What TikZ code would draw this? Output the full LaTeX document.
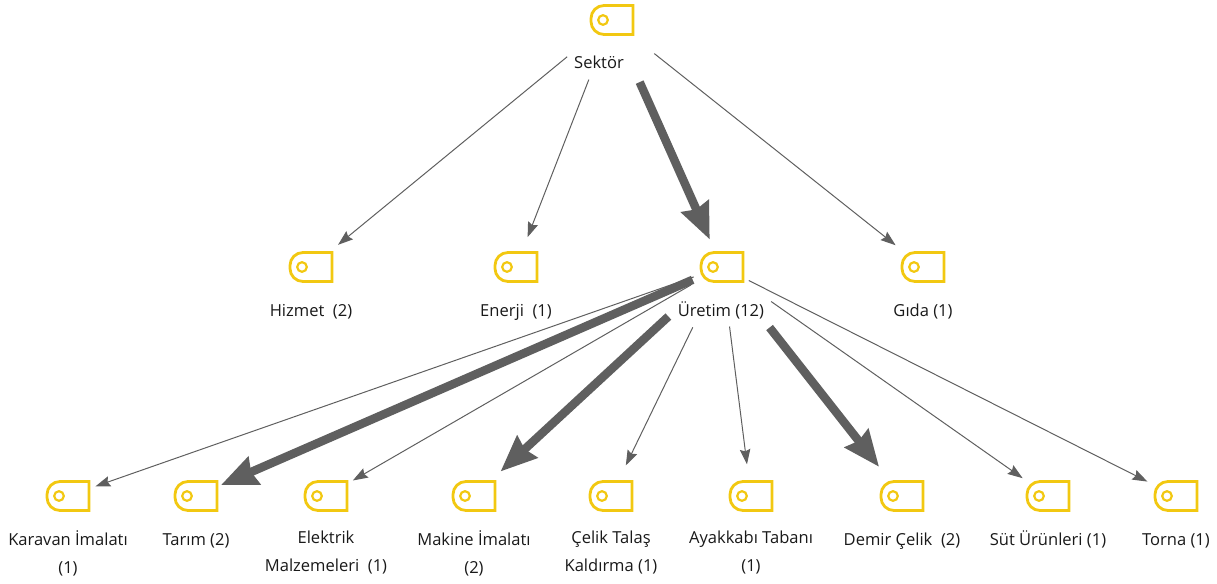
\documentclass[tikz,border=0pt]{standalone}
\usepackage{fontspec}
\setmainfont{Open Sans}
\usetikzlibrary{arrows.meta}
\definecolor{tagyellow}{HTML}{F2C811}
\definecolor{linkgray}{HTML}{5F5F5F}
\tikzset{
  x=1bp,y=-1bp,
  tagbox/.style={inner sep=0pt,minimum width=44bp,minimum height=30bp},
  tagline/.style={draw=tagyellow,line width=2.8bp,line join=miter},
  lab/.style={inner sep=0pt,anchor=north,align=center,text=black!90,font=\fontsize{16.6}{28.1}\selectfont,execute at begin node=\strut},
  thinlink/.style={draw=linkgray,line width=1bp,-{Stealth[length=15bp,width=10.5bp,inset=2bp]}},
  thicklink/.style={draw=linkgray,line width=8.5bp,-{Stealth[length=36bp,width=29bp,inset=3bp]}},
}
\newcommand{\tagicon}[2]{%
  \node[tagbox] (#1) at (#2) {};
  \begin{scope}[shift={(#1.center)}]
    \draw[tagline] (21,-14.5) [rounded corners=13bp] -- (-21,-14.5) -- (-21,14.5) [sharp corners] -- (21,14.5) -- cycle;
    \draw[draw=tagyellow,line width=2.2bp] (-9,0) circle (4.8bp);
  \end{scope}}
\newcommand{\conn}[5]{\draw[#1,shorten <=#4bp,shorten >=#5bp] (#2.center) -- (#3.center);}
\begin{document}
\begin{tikzpicture}
\useasboundingbox (0,0) rectangle (1217,584);
\tagicon{sektor}{612,20}
\tagicon{hizmet}{311,267}
\tagicon{enerji}{516,267}
\tagicon{uretim}{722,267}
\tagicon{gida}{923,267}
\tagicon{karavan}{68,496}
\tagicon{tarim}{196,496}
\tagicon{elektrik}{326,496}
\tagicon{makine}{474,496}
\tagicon{celik}{611,496}
\tagicon{ayakkabi}{751,496}
\tagicon{demir}{902,496}
\tagicon{sut}{1048,496}
\tagicon{torna}{1176,496}
\node[lab] (lsektor) at (599,48.8) {Sektör};
\node[lab] (lhizmet) at (311,296.3) {Hizmet\ \ (2)};
\node[lab] (lenerji) at (516,296.3) {Enerji\ \ (1)};
\node[lab] (luretim) at (721,296.3) {Üretim (12)};
\node[lab] (lgida) at (923,296.3) {Gıda (1)};
\node[lab] (lkaravan) at (68,530.3) {Karavan İmalatı\\(1)};
\node[lab] (ltarim) at (196,525.3) {Tarım (2)};
\node[lab] (lelektrik) at (326,530.3) {Elektrik\\Malzemeleri\ \ (1)};
\node[lab] (lmakine) at (474,530.3) {Makine İmalatı\\(2)};
\node[lab] (lcelik) at (611,530.3) {Çelik Talaş\\Kaldırma (1)};
\node[lab] (layakkabi) at (751,530.3) {Ayakkabı Tabanı\\(1)};
\node[lab] (ldemir) at (902,525.3) {Demir Çelik\ \ (2)};
\node[lab] (lsut) at (1048,525.3) {Süt Ürünleri (1)};
\node[lab] (ltorna) at (1176,525.3) {Torna (1)};
\conn{thinlink}{sektor}{hizmet}{58}{35}
\conn{thinlink}{sektor}{enerji}{64}{32}
\conn{thicklink}{sektor}{uretim}{68}{30}
\conn{thinlink}{sektor}{gida}{54}{35}
\conn{thinlink}{uretim}{karavan}{30}{29}
\conn{thicklink}{uretim}{tarim}{32}{27}
\conn{thinlink}{uretim}{elektrik}{36}{31}
\conn{thicklink}{uretim}{makine}{73}{36}
\conn{thinlink}{uretim}{celik}{67}{34}
\conn{thinlink}{uretim}{ayakkabi}{60}{32}
\conn{thicklink}{uretim}{demir}{77}{37}
\conn{thinlink}{uretim}{sut}{60}{31}
\conn{thinlink}{uretim}{torna}{30}{32}
\end{tikzpicture}
\end{document}
